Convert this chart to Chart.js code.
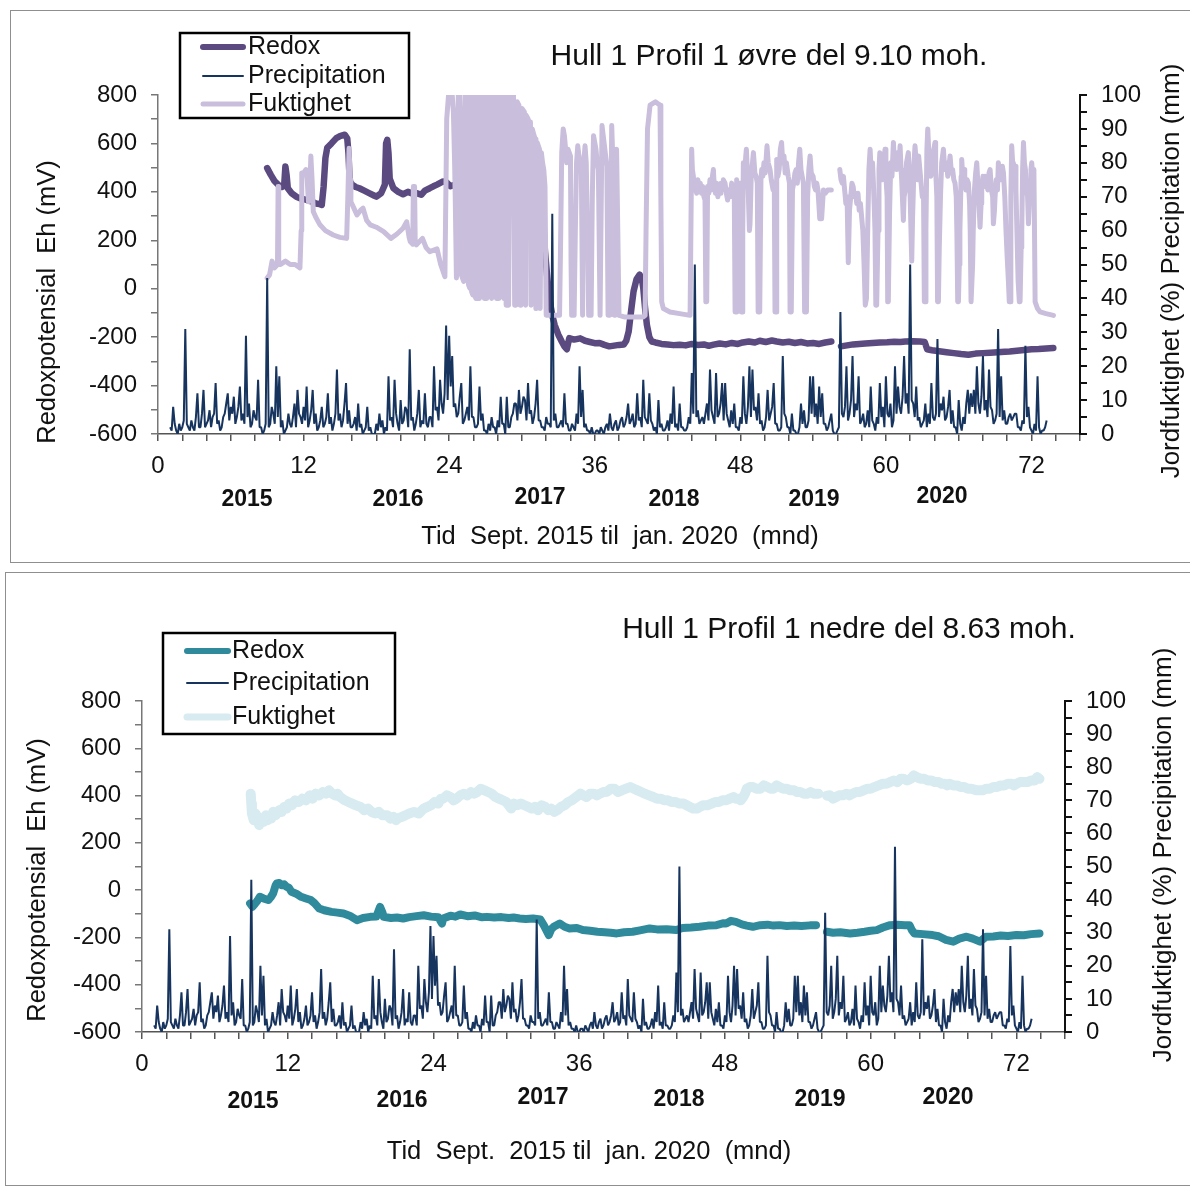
<!DOCTYPE html>
<html>
<head>
<meta charset="utf-8">
<title>Hull 1 Profil 1 - redoks, fuktighet og nedbør</title>
<script src="https://cdn.jsdelivr.net/npm/chart.js@4.4.0/dist/chart.umd.min.js"></script>
<style>
  html, body { margin: 0; padding: 0; background: #fff; }
  #page { position: relative; width: 1190px; height: 1189px; overflow: hidden; }
  .frame { position: absolute; border: 1.5px solid #8f8f8f; }
  canvas { position: absolute; left: 0; }
</style>
</head>
<body>
<div id="page">
  <div class="frame" style="left:10px; top:10px; width:1190px; height:551px;"></div>
  <div class="frame" style="left:5px; top:572px; width:1195px; height:612px;"></div>
  <canvas id="upperChart" width="1190" height="566" style="top:0"></canvas>
  <canvas id="lowerChart" width="1190" height="623" style="top:566px"></canvas>
</div>
<script>
/* ============================================
   DATA
   ============================================ */

// Precipitation (mm), one value every eighth of a month from month 1
const precipStart = 1.0;
const precipStep = 0.125;
const precipUpperMm = [
  2,1, 8,3, 1,0, 3,1, 2,4, 31,3, 2,1, 4,2, 1,5, 12,2, 2,6, 13,2,
  3,4, 7,2, 5,6, 15,3, 4,1, 2,5, 6,9, 12,4, 8,6, 11,3, 5,8, 14,4,
  6,3, 29,5, 9,2, 3,7, 5,4, 16,2, 2,0, 1,3, 46,2, 3,8, 6,3, 20,5,
  17,2, 4,0, 1,2, 6,3, 2,5, 9,2, 13,6, 5,3, 8,4, 14,2, 4,7, 13,3,
  6,1, 2,4, 8,2, 3,5, 12,3, 5,1, 3,6, 19,4, 6,2, 4,9, 15,3, 7,2,
  2,3, 5,1, 9,2, 3,0, 1,2, 8,1, 2,0, 0,0, 3,1, 6,2, 4,0, 2,1,
  17,4, 5,2, 16,6, 3,1, 10,3, 4,8, 7,2, 25,4, 5,1, 3,6, 13,2, 4,3,
  12,3, 2,5, 5,2, 20,7, 8,4, 16,9, 6,12, 32,10, 29,14, 23,8, 9,5, 6,11,
  15,3, 4,6, 8,4, 20,5, 5,2, 2,3, 14,4, 6,1, 1,0, 3,1, 5,2, 2,0,
  4,2, 11,3, 3,0, 11,2, 2,5, 6,9, 9,4, 13,6, 8,11, 10,4, 15,6, 7,3,
  5,9, 16,4, 4,2, 2,1, 5,3, 3,2, 65,4, 6,2, 2,3, 4,2, 12,3, 3,1,
  1,3, 2,1, 6,3, 20,5, 13,2, 3,1, 1,0, 2,0, 0,1, 1,0, 2,1, 0,2,
  3,1, 6,2, 1,3, 4,1, 2,4, 5,2, 3,5, 9,3, 4,6, 2,3, 12,4, 5,2,
  16,5, 4,3, 12,4, 3,1, 2,0, 10,2, 3,1, 1,2, 4,1, 6,3, 14,2, 3,1,
  9,2, 2,1, 1,2, 5,3, 18,6, 50,5, 7,3, 4,5, 3,6, 9,4, 19,7, 5,3,
  18,5, 6,9, 15,4, 15,6, 4,2, 7,3, 9,2, 2,1, 5,3, 17,6, 3,8, 20,5,
  19,7, 8,4, 12,3, 4,1, 2,5, 13,4, 6,8, 15,3, 3,1, 1,2, 23,6, 5,2,
  2,0, 6,1, 1,0, 0,2, 9,3, 7,2, 2,4, 17,6, 17,5, 9,3, 14,5, 12,3,
  3,1, 2,4, 6,1, 0,0, 1,2, 36,6, 5,8, 20,4, 6,10, 23,5, 9,7, 17,3,
  4,6, 2,3, 7,2, 14,4, 3,1, 5,3, 15,5, 8,2, 17,6, 5,9, 2,4, 20,6,
  14,8, 6,11, 23,9, 12,6, 50,10, 9,5, 14,4, 5,2, 3,4, 9,2, 6,3, 15,5,
  4,6, 28,5, 9,7, 11,4, 5,8, 13,3, 7,2, 2,0, 10,3, 1,5, 3,9, 13,6,
  12,8, 13,6, 20,9, 6,11, 23,7, 10,5, 19,8, 7,3, 4,6, 31,5, 17,4, 7,3,
  3,5, 6,4, 5,6, 6,2, 2,1, 4,3, 26,5, 8,2, 1,0, 3,1, 17,2, 0,1,
  1,2, 4
];
const precipLowerMm = [
  2,1, 8,3, 1,0, 3,1, 2,4, 31,3, 2,1, 4,2, 1,5, 12,2, 2,6, 13,2,
  3,4, 7,2, 5,6, 15,3, 4,1, 2,5, 6,9, 12,4, 8,6, 11,3, 5,8, 14,4,
  6,3, 29,5, 9,2, 3,7, 5,4, 16,2, 2,0, 1,3, 46,2, 3,8, 6,3, 20,5,
  17,2, 4,0, 1,2, 6,3, 2,5, 9,2, 13,6, 5,3, 8,4, 14,2, 4,7, 13,3,
  6,1, 2,4, 8,2, 3,5, 12,3, 5,1, 3,6, 19,4, 6,2, 4,9, 15,3, 7,2,
  2,3, 5,1, 9,2, 3,0, 1,2, 8,1, 2,0, 0,0, 3,1, 6,2, 4,0, 2,1,
  17,4, 5,2, 16,6, 3,1, 10,3, 4,8, 7,2, 25,4, 5,1, 3,6, 13,2, 4,3,
  12,3, 2,5, 5,2, 20,7, 8,4, 16,9, 6,12, 32,10, 29,14, 23,8, 9,5, 6,11,
  15,3, 4,6, 8,4, 20,5, 5,2, 2,3, 14,4, 6,1, 1,0, 3,1, 5,2, 2,0,
  4,2, 11,3, 3,0, 11,2, 2,5, 6,9, 9,4, 13,6, 8,11, 10,4, 15,6, 7,3,
  5,9, 16,4, 4,2, 2,1, 5,3, 3,2, 34,4, 6,2, 2,3, 4,2, 12,3, 3,1,
  1,3, 2,1, 6,3, 20,5, 13,2, 3,1, 1,0, 2,0, 0,1, 1,0, 2,1, 0,2,
  3,1, 6,2, 1,3, 4,1, 2,4, 5,2, 3,5, 9,3, 4,6, 2,3, 12,4, 5,2,
  16,5, 4,3, 12,4, 3,1, 2,0, 10,2, 3,1, 1,2, 4,1, 6,3, 14,2, 3,1,
  9,2, 2,1, 1,2, 5,3, 18,6, 50,5, 7,3, 4,5, 3,6, 9,4, 19,7, 5,3,
  18,5, 6,9, 15,4, 15,6, 4,2, 7,3, 9,2, 2,1, 5,3, 17,6, 3,8, 20,5,
  19,7, 8,4, 12,3, 4,1, 2,5, 13,4, 6,8, 15,3, 3,1, 1,2, 23,6, 5,2,
  2,0, 6,1, 1,0, 0,2, 9,3, 7,2, 2,4, 17,6, 17,5, 9,3, 14,5, 12,3,
  3,1, 2,4, 6,1, 0,0, 1,2, 36,6, 5,8, 20,4, 6,10, 23,5, 9,7, 17,3,
  4,6, 2,3, 7,2, 14,4, 3,1, 5,3, 15,5, 8,2, 17,6, 5,9, 2,4, 20,6,
  14,8, 6,11, 23,9, 12,6, 56,10, 9,5, 14,4, 5,2, 3,4, 9,2, 6,3, 15,5,
  4,6, 28,5, 9,7, 11,4, 5,8, 13,3, 7,2, 2,0, 10,3, 1,5, 3,9, 13,6,
  12,8, 13,6, 20,9, 6,11, 23,7, 10,5, 19,8, 7,3, 4,6, 31,5, 17,4, 7,3,
  3,5, 6,4, 5,6, 6,2, 2,1, 4,3, 26,5, 8,2, 1,0, 3,1, 17,2, 0,1,
  1,2, 4
];

// Upper profile (øvre del): [month, Eh mV]
const upperRedox = [
  [9.0,498],[9.3,470],[9.6,445],[9.9,430],[10.2,420],[10.4,425],[10.5,505],[10.6,470],[10.7,415],
  [11.0,395],[11.4,380],[11.8,372],[12.25,367],[12.7,360],[13.0,352],[13.3,350],[13.5,346],
  [13.65,420],[13.8,540],[13.95,582],[14.3,600],[14.7,622],[15.0,630],[15.4,636],[15.6,620],
  [15.7,560],[15.8,445],[16.0,430],[16.3,420],[16.6,415],[17.0,405],[17.4,395],[17.8,385],
  [18.0,380],[18.4,395],[18.7,430],[18.8,600],[18.9,615],[19.0,560],[19.1,455],[19.4,415],
  [19.8,400],[20.2,390],[20.6,400],[21.0,392],[21.3,395],[21.7,388],[22.0,405],[22.4,415],
  [22.7,423],[23.0,430],[23.5,443],[23.8,438],[24.1,423],[24.5,430],[25.0,425],[25.3,433],
  [25.7,430],[26.2,436],[26.6,440],[26.9,437],[27.0,595],[27.5,590],[28.0,585],[28.5,583],
  [29.0,581],[29.1,430],[29.5,425],[30.0,423],[30.4,425],[30.7,420],[31.1,400],[31.4,385],
  [31.7,300],[31.9,154],[32.1,40],[32.3,-52],[32.5,-110],[32.7,-150],[33.0,-190],[33.3,-220],
  [33.5,-238],[33.7,-250],[33.9,-204],[34.3,-210],[34.8,-205],[35.2,-215],[35.6,-220],
  [36.0,-225],[36.4,-224],[36.8,-232],[37.2,-238],[37.6,-235],[38.0,-232],[38.4,-230],
  [38.6,-215],[38.8,-176],[39.0,-90],[39.2,-11],[39.45,40],[39.7,58],[39.9,35],[40.0,3],
  [40.15,-80],[40.3,-149],[40.5,-200],[40.7,-218],[41.0,-222],[41.5,-228],[42.0,-230],
  [42.5,-233],[43.0,-231],[43.5,-234],[44.0,-228],[44.5,-232],[45.0,-230],[45.4,-236],
  [45.8,-231],[46.3,-226],[46.8,-230],[47.3,-224],[47.8,-228],[48.2,-222],[48.7,-218],
  [49.2,-222],[49.6,-215],[50.1,-220],[50.6,-214],[51.0,-218],[51.5,-222],[52.0,-219],
  [52.5,-224],[53.0,-220],[53.5,-226],[54.0,-224],[54.5,-228],[55.0,-222],[55.5,-218],
  [55.9,null],
  [56.3,-238],[56.8,-234],[57.3,-230],[57.8,-228],[58.3,-226],[58.9,-224],[59.5,-222],
  [60.1,-221],[60.7,-219],[61.2,-220],[61.6,-218],[62.2,-217],[62.8,-218],[63.2,-220],
  [63.4,-250],[63.8,-254],[64.4,-258],[65.0,-262],[65.6,-266],[66.2,-270],[66.8,-273],
  [67.4,-268],[68.0,-266],[68.6,-264],[69.2,-262],[69.8,-260],[70.2,-259],[70.8,-256],
  [71.4,-253],[72.0,-250],[72.6,-249],[73.2,-247],[73.8,-245]
];

// Upper profile soil moisture: [month, %]
const upperFukt = [
  [9.0,46],[9.2,47],[9.4,51],[9.6,49],[9.85,50],[9.9,73],[9.95,50],[10.1,50],[10.5,51],
  [10.9,50],[11.3,50],[11.7,49],[11.8,60],[11.85,77],[12.0,77],[12.2,78],[12.3,75],
  [12.4,68.5],[12.5,70],[12.6,82],[12.7,75],[12.8,65.6],[13.0,64],[13.35,61.7],[13.8,60],
  [14.45,58.7],[15.0,58],[15.55,57.7],[15.65,70],[15.75,84.3],[15.85,75],[15.9,68.5],
  [16.1,67],[16.4,64.6],[16.7,66],[16.9,66.6],[17.2,63],[17.5,61.7],[18.0,61],[18.6,59.7],
  [19.2,57.7],[19.7,59],[20.2,60.7],[20.5,62.6],[20.7,58],[20.8,56.7],[21.0,56],[21.05,73],
  [21.15,73],[21.2,57],[21.3,55.8],[21.8,57.7],[22.1,55],[22.4,53.8],[23.0,54.6],[23.3,50],
  [23.65,46.4],
  [23.8,93],[23.95,100],[24.1,99],[24.25,100],[24.35,95],[24.45,80],[24.5,70],[24.6,46],
  [24.68,60],[24.75,100],[24.85,100],[24.9,95],[24.95,60],[25.0,47],[25.1,46],[25.2,45],
  [25.25,80],[25.3,100],[25.4,100],[25.5,100],[25.55,70],[25.6,44],[25.7,43],[25.75,100],
  [25.8,100],[25.85,42],[25.95,41],[26.0,100],[26.05,100],[26.1,41],[26.2,40],[26.3,40],
  [26.4,100],[26.45,100],[26.5,40],[26.6,100],[26.7,100],[26.8,100],[26.9,40],[27.0,100],
  [27.1,40],[27.2,100],[27.3,42],[27.4,100],[27.5,40],[27.6,100],[27.7,41],[27.8,100],
  [27.9,40],[28.0,100],[28.1,40],[28.2,100],[28.3,41],[28.4,100],[28.5,40],[28.6,100],
  [28.7,38],[28.9,38],[29.0,100],[29.2,100],[29.3,100],[29.4,38],[29.5,38],[29.6,98],
  [29.75,97],[29.85,38],[29.9,96],[30.0,96],[30.2,95],[30.3,38],[30.35,94],[30.5,93],
  [30.6,92],[30.7,92],[30.75,38],[30.8,38],[30.85,90],[31.0,88],[31.1,87],[31.15,37],
  [31.2,37],[31.25,86],[31.3,86],[31.45,84],[31.5,37],[31.55,37],[31.6,83],[31.7,80],
  [31.8,78],[31.9,73],[32.0,35],[32.5,35],[33.1,35],
  [33.2,60],[33.28,83],[33.4,90],[33.5,88],[33.6,84],[33.69,80],[33.8,84],[34.0,82],
  [34.05,50],[34.1,35],[34.3,35],[34.4,60],[34.5,80],[34.6,85],[34.7,82],[34.8,80],
  [34.9,77],[35.0,35],[35.03,35],[35.06,78],[35.2,85],[35.3,80],[35.4,60],[35.5,35],
  [35.7,35],[35.8,70],[35.9,88],[36.0,86],[36.1,84],[36.2,80],[36.3,78],[36.44,35],
  [36.5,35],[36.6,91],[36.7,88],[36.8,85],[36.9,82],[37.0,79],[37.1,35],[37.25,35],
  [37.4,91],[37.55,74],[37.6,35],[37.7,35],[37.8,84],[37.9,60],[38.0,35],[38.5,34.5],
  [39.0,34.5],[39.5,34.5],[40.0,34.5],[40.15,35],[40.23,60],[40.35,90],[40.56,97],[41.0,98],
  [41.38,97],[41.45,70],[41.52,39],[41.66,37],[42.2,36],[43.0,35.5],[43.86,35],
  [43.99,84],[44.05,78],[44.13,76],[44.2,72],[44.3,74],[44.4,71],[44.5,75],[44.6,72],
  [44.7,74],[44.8,71],[44.9,73],[45.0,70],[45.09,69],[45.16,39],[45.23,39],[45.3,73],
  [45.4,71],[45.5,75],[45.6,72],[45.7,76],[45.78,78],[45.85,73],[45.95,71],[46.05,74],
  [46.15,70],[46.25,72],[46.33,71],[46.4,74],[46.5,72],[46.6,75],[46.74,74],[46.85,71],
  [46.95,69],[47.05,72],[47.15,70],[47.29,74],[47.4,70],[47.5,72],[47.57,36],[47.65,36],
  [47.7,75],[47.8,72],[47.9,70],[48.0,74],[48.07,36],[48.15,36],[48.2,60],[48.25,80],
  [48.35,76],[48.45,82],[48.5,84],[48.6,76],[48.65,72],[48.75,60],[48.8,62],[48.9,76],
  [48.95,78],[49.08,83],[49.2,77],[49.3,76],[49.4,74],[49.47,36],[49.6,36],[49.7,75],
  [49.76,78],[49.85,76],[49.95,80],[50.05,77],[50.2,85],[50.3,80],[50.45,78],[50.55,75],
  [50.7,72],[50.8,74],[50.86,36],[50.95,36],[51.0,81],[51.1,76],[51.2,78],[51.3,84],
  [51.4,86],[51.5,80],[51.6,82],[51.7,77],[51.8,80],[51.95,76],[52.05,74],[52.1,36],
  [52.2,36],[52.3,72],[52.4,74],[52.5,77],[52.6,78],[52.7,74],[52.8,80],[52.9,84],
  [53.0,78],[53.1,76],[53.2,74],[53.3,36],[53.45,36],[53.55,70],[53.65,78],[53.75,82],
  [53.85,77],[54.0,76],[54.1,73],[54.2,72],[54.3,74],[54.4,72],[54.55,63.5],[54.7,63.5],
  [54.85,72],[55.0,71],[55.2,72],[55.5,72],
  [55.85,null],
  [56.2,78],[56.3,75],[56.4,74],[56.5,76],[56.6,72],[56.7,68],[56.8,70],[56.9,50.5],
  [57.0,66],[57.1,70],[57.2,74],[57.3,73],[57.4,70],[57.5,71],[57.6,68],[57.7,71],
  [57.8,66],[57.9,68],[58.0,64],[58.1,60],[58.2,50],[58.3,38],[58.4,40],[58.5,60],
  [58.6,78],[58.7,84],[58.8,76],[58.9,80],[58.97,74],[59.05,66],[59.1,60],[59.17,38],
  [59.24,38],[59.35,60],[59.43,78],[59.5,83],[59.6,77],[59.7,75],[59.8,80],[59.93,84],
  [60.0,76],[60.1,70],[60.15,39],[60.2,39],[60.3,65],[60.4,80],[60.5,76],[60.62,86],
  [60.7,79],[60.8,82],[60.89,78],[61.0,83],[61.1,80],[61.17,85],[61.25,78],[61.3,75],
  [61.44,63],[61.5,70],[61.6,72],[61.7,80],[61.85,83],[61.95,76],[62.0,70],[62.13,51],
  [62.2,64],[62.25,70],[62.32,80],[62.4,85],[62.5,80],[62.6,75],[62.7,82],[62.8,78],
  [62.9,74],[63.0,70],[63.1,72],[63.17,39],[63.23,39],[63.3,60],[63.38,84],[63.45,90],
  [63.55,82],[63.6,80],[63.7,76],[63.78,79],[63.9,83],[64.05,86],[64.1,78],[64.2,70],
  [64.26,39],[64.33,39],[64.4,55],[64.5,70],[64.6,80],[64.74,84],[64.85,78],[65.0,80],
  [65.1,76],[65.2,79],[65.29,82],[65.4,77],[65.5,78],[65.6,75],[65.7,74],[65.8,70],
  [65.85,60],[65.92,39],[65.98,39],[66.05,50],[66.1,60],[66.2,76],[66.25,81],[66.35,75],
  [66.45,78],[66.5,76],[66.6,72],[66.7,75],[66.8,74],[66.9,68],[66.95,60],[67.02,39],
  [67.08,39],[67.15,50],[67.2,60],[67.3,72],[67.4,77],[67.49,80],[67.58,74],[67.65,70],
  [67.76,61],[67.85,68],[67.9,72],[68.0,76],[68.1,73],[68.17,76],[68.3,74],[68.4,72],
  [68.5,77],[68.59,78],[68.7,72],[68.8,70],[68.86,62],[68.95,66],[69.0,70],[69.1,75],
  [69.2,72],[69.27,80],[69.38,76],[69.5,75],[69.6,79],[69.69,77],[69.8,70],[69.9,60],
  [70.0,52],[70.1,45],[70.17,39],[70.24,39],[70.3,70],[70.37,85],[70.45,80],[70.5,80],
  [70.58,76],[70.65,79],[70.72,72],[70.8,60],[70.9,45],[71.0,39],[71.06,39],[71.15,55],
  [71.2,60],[71.27,78],[71.34,86],[71.42,80],[71.5,78],[71.6,72],[71.68,70],[71.75,62],
  [71.82,68],[71.9,72],[71.96,78],[72.02,80],[72.1,76],[72.2,78],[72.25,60],[72.3,39],
  [72.5,37],[72.71,36],[73.2,35.5],[73.81,35]
];

// Lower profile (nedre del): [month, Eh mV]
const lowerRedox = [
  [8.9,-56],[9.1,-70],[9.3,-58],[9.5,-45],[9.7,-28],[10.0,-35],[10.4,-42],[10.6,-30],
  [10.8,-14],[11.0,20],[11.1,28],[11.3,30],[11.5,21],[11.7,25],[11.9,14],[12.1,10],
  [12.3,-7],[12.7,-15],[13.1,-28],[13.5,-35],[13.9,-42],[14.2,-55],[14.6,-78],[15.0,-85],
  [15.6,-92],[16.1,-95],[16.6,-99],[17.1,-108],[17.7,-127],[18.2,-118],[18.8,-113],
  [19.3,-112],[19.6,-71],[19.8,-95],[19.9,-113],[20.5,-118],[21.0,-116],[21.5,-120],
  [22.0,-114],[22.6,-110],[23.2,-106],[23.8,-112],[24.4,-115],[24.7,-141],[24.8,-120],
  [25.4,-108],[25.8,-112],[26.2,-103],[26.8,-110],[27.4,-107],[28.0,-115],[28.4,-113],
  [29.0,-116],[29.6,-114],[30.2,-118],[30.6,-116],[31.1,-120],[31.6,-122],[32.2,-120],
  [32.8,-124],[33.1,-150],[33.5,-190],[33.7,-165],[33.9,-155],[34.4,-141],[34.8,-155],
  [35.2,-162],[35.8,-160],[36.3,-169],[36.9,-172],[37.5,-176],[38.1,-178],[38.6,-180],
  [39.1,-183],[39.7,-178],[40.4,-176],[41.0,-170],[41.8,-162],[42.4,-166],[43.2,-165],
  [44.0,-169],[44.5,-160],[45.2,-158],[45.9,-155],[46.6,-150],[47.3,-148],[47.9,-140],
  [48.1,-141],[48.5,-130],[48.9,-134],[49.4,-145],[49.8,-150],[50.3,-155],[50.9,-148],
  [51.5,-146],[52.0,-150],[52.5,-148],[53.1,-152],[53.7,-150],[54.3,-152],[55.0,-149],
  [55.5,-148],
  [55.9,null],
  [56.4,-176],[56.9,-180],[57.5,-178],[58.3,-183],[58.9,-180],[59.5,-176],[60.0,-172],
  [60.5,-169],[61.0,-158],[61.6,-148],[62.2,-146],[62.8,-148],[63.2,-148],[63.4,-170],
  [63.6,-183],[64.3,-186],[65.1,-190],[65.6,-195],[66.2,-210],[66.8,-218],[67.3,-205],
  [67.9,-197],[68.4,-205],[69.0,-218],[69.5,-197],[70.1,-196],[70.7,-192],[71.3,-194],
  [72.0,-190],[72.6,-191],[73.2,-186],[73.9,-183]
];

// Lower profile soil moisture: [month, %]
const lowerFukt = [
  [8.95,72],[9.0,69],[9.05,66],[9.2,64],[9.35,66],[9.5,65],[9.65,62.5],[9.8,64],[10.0,63.5],
  [10.2,65.5],[10.35,64],[10.5,65],[10.65,64.5],[10.8,66.5],[11.0,65.5],[11.3,67],[11.5,66.5],
  [11.7,68],[11.9,67.5],[12.1,69],[12.35,68.5],[12.6,70],[12.9,69.5],[13.2,70.5],[13.5,70],
  [13.8,71.5],[14.05,70.5],[14.3,72],[14.6,71.5],[14.9,72.5],[15.15,72],[15.4,73],[15.65,72],
  [15.9,71.5],[16.1,72],[16.3,71],[16.5,70.5],[16.7,70],[17.0,69.5],[17.3,69],[17.6,68.5],
  [18.0,68],[18.3,67],[18.6,67.5],[18.9,66.5],[19.2,66],[19.5,66.5],[19.8,65.5],[20.2,65.5],
  [20.45,64.5],[20.7,65],[20.9,64],[21.1,64.6],[21.4,65],[21.7,65.5],[22.0,66],[22.4,66.5],
  [22.8,66],[23.2,67.5],[23.5,68],[23.8,68.5],[24.1,69.5],[24.4,69],[24.6,70.5],[24.8,70.5],
  [25.1,71.5],[25.4,71],[25.65,70],[25.9,70.5],[26.2,71.5],[26.5,72],[26.8,71.5],[27.1,72.5],
  [27.35,72],[27.6,72.5],[27.9,73.5],[28.2,73],[28.5,72.5],[28.8,72],[29.1,71],[29.4,70.5],
  [29.7,70],[30.0,69.5],[30.2,68.5],[30.4,67.5],[30.6,69],[30.9,68.5],[31.2,69],[31.5,68.5],
  [31.8,68],[32.1,67.5],[32.35,68],[32.6,67],[32.9,68.5],[33.2,68],[33.45,67],[33.7,67.5],
  [33.95,66.5],[34.2,67],[34.5,68],[34.8,68.5],[35.1,69.5],[35.4,70],[35.75,71],[36.1,72],
  [36.35,71.5],[36.6,71],[36.9,72],[37.2,72],[37.45,71.5],[37.7,72],[38.0,72.5],[38.3,72.6],
  [38.6,73.5],[38.9,73.5],[39.2,72.5],[39.5,73],[39.85,73.5],[40.2,74],[40.5,73.5],[40.8,73],
  [41.1,72.5],[41.4,72],[41.75,71.5],[42.1,71],[42.4,70.5],[42.7,70.5],[43.0,70],[43.3,70],
  [43.6,69.5],[43.9,69.5],[44.25,69],[44.6,69],[44.85,68.5],[45.1,68],[45.4,67.5],[45.7,67.5],
  [45.95,68],[46.2,68.5],[46.55,68.5],[46.9,69],[47.2,69.5],[47.5,69.5],[47.8,70],[48.1,70],
  [48.4,70.5],[48.7,71],[48.9,70.5],[49.1,70.5],[49.3,70],[49.5,71],[49.65,72],[49.8,73.5],
  [50.05,74],[50.3,74],[50.6,73.5],[50.9,73.5],[51.2,74.5],[51.5,74],[51.75,73.5],[52.0,73.5],
  [52.25,74.5],[52.5,74],[52.8,73.5],[53.1,73.5],[53.4,73],[53.7,73],[53.95,72.5],[54.2,72.5],
  [54.5,72],[54.8,72],[55.05,72.5],[55.3,72],[55.5,72],[55.7,72],
  [56.0,null],
  [56.4,71.4],[56.65,71.5],[56.9,70.5],[57.15,71],[57.4,71.5],[57.7,71.5],[58.0,72],
  [58.25,71.5],[58.5,72],[58.8,72.5],[59.1,72.5],[59.4,73],[59.7,73.5],[60.0,73.5],[60.3,74],
  [60.65,74.5],[61.0,75],[61.3,75],[61.6,75.5],[61.9,76],[62.2,75.5],[62.45,76.5],[62.7,76.5],
  [63.0,76],[63.3,76.5],[63.55,77.5],[63.8,77],[64.1,76.5],[64.4,76.5],[64.7,76],[65.0,76],
  [65.3,75.5],[65.6,75.5],[65.85,75],[66.1,75],[66.3,74.5],[66.5,75],[66.8,74.5],[67.1,74.5],
  [67.4,74],[67.7,74],[68.0,73.5],[68.3,73.5],[68.75,73],[69.2,73],[69.5,73.5],[69.8,73.5],
  [70.1,74],[70.4,74],[70.7,74.5],[71.0,74.5],[71.3,75],[71.6,75],[71.8,74.5],[72.0,75],
  [72.3,75.5],[72.6,75.5],[72.9,75.5],[73.2,76],[73.5,76],[73.7,77],[73.9,76.5]
];

// Axis labels
const yearLabels = ['2015', '2016', '2017', '2018', '2019', '2020'];
const seriesNames = ['Redox', 'Precipitation', 'Fuktighet'];

/* ============================================
   HELPERS
   ============================================ */
const FONT = "'Liberation Sans', Arial, sans-serif";

function pairsToPoints(pairs) {
  return pairs.map(p => ({ x: p[0], y: p[1] }));
}

function precipToPoints(values) {
  return values.map((v, i) => ({ x: precipStart + i * precipStep, y: v }));
}

// Draws titles, year row, axis titles and the boxed legend
const panelText = {
  id: 'panelText',
  afterDraw(chart, args, o) {
    const ctx = chart.ctx;
    ctx.save();
    ctx.fillStyle = '#111';
    ctx.textBaseline = 'middle';
    ctx.textAlign = 'center';

    // Panel title
    ctx.font = '30px ' + FONT;
    ctx.fillText(o.title, o.titleX, o.titleY);

    // Year row under the month axis
    ctx.font = 'bold 23px ' + FONT;
    yearLabels.forEach((label, i) => ctx.fillText(label, o.yearX[i], o.yearY[i]));

    // Time axis title
    ctx.font = '25.5px ' + FONT;
    ctx.fillText(o.xTitle, o.xTitleX, o.xTitleY);

    // Left axis title
    ctx.save();
    ctx.translate(o.leftTitleX, o.leftTitleY);
    ctx.rotate(-Math.PI / 2);
    ctx.font = '25.5px ' + FONT;
    ctx.fillText('Redoxpotensial  Eh (mV)', 0, 0);
    ctx.restore();

    // Right axis title
    ctx.save();
    ctx.translate(o.rightTitleX, o.rightTitleY);
    ctx.rotate(-Math.PI / 2);
    ctx.font = '26px ' + FONT;
    ctx.fillText('Jordfuktighet (%) Precipitation (mm)', 0, 0);
    ctx.restore();

    // Legend box
    const lg = o.legend;
    ctx.lineWidth = 2.5;
    ctx.strokeStyle = '#000';
    ctx.strokeRect(lg.x, lg.y, lg.w, lg.h);
    ctx.font = '25px ' + FONT;
    ctx.textAlign = 'left';
    const ds = chart.data.datasets;
    seriesNames.forEach((name, i) => {
      const d = ds.find(s => s.label === name);
      const rowY = lg.rows[i];
      ctx.beginPath();
      ctx.strokeStyle = d.borderColor;
      ctx.lineWidth = lg.sampleWidths[i];
      ctx.lineCap = 'round';
      ctx.moveTo(lg.sampleX0, rowY);
      ctx.lineTo(lg.sampleX1, rowY);
      ctx.stroke();
      ctx.fillStyle = '#111';
      ctx.fillText(name, lg.textX, rowY);
    });
    ctx.restore();
  }
};

/* ============================================
   BUILD ONE PANEL
   ============================================ */
function buildPanel(canvasId, cfg) {
  const ctx = document.getElementById(canvasId).getContext('2d');
  return new Chart(ctx, {
    type: 'line',
    data: {
      datasets: [
        {
          label: 'Precipitation',
          data: precipToPoints(cfg.precip),
          yAxisID: 'y1',
          borderColor: '#17345e',
          borderWidth: 2,
          borderJoinStyle: 'bevel',
          pointRadius: 0,
          order: 0
        },
        {
          label: 'Fuktighet',
          data: pairsToPoints(cfg.fukt),
          yAxisID: 'y1',
          borderColor: cfg.fuktColor,
          borderWidth: cfg.fuktWidth,
          borderJoinStyle: 'round',
          borderCapStyle: 'round',
          pointRadius: 0,
          spanGaps: false,
          order: 1
        },
        {
          label: 'Redox',
          data: pairsToPoints(cfg.redox),
          yAxisID: 'y',
          borderColor: cfg.redoxColor,
          borderWidth: cfg.redoxWidth,
          borderJoinStyle: 'round',
          borderCapStyle: 'round',
          pointRadius: 0,
          spanGaps: false,
          order: 2
        }
      ]
    },
    options: {
      responsive: false,
      animation: false,
      events: [],
      layout: { padding: { left: 0, right: 0, top: cfg.areaTop, bottom: 0 } },
      plugins: {
        legend: { display: false },
        tooltip: { enabled: false },
        panelText: cfg.text
      },
      scales: {
        x: {
          type: 'linear',
          min: 0,
          max: 76,
          afterFit: s => { s.height = cfg.xAxisHeight; },
          border: { display: true, color: '#555', width: 1.5 },
          grid: { drawOnChartArea: false, tickLength: 7, color: '#555', lineWidth: 1.5 },
          ticks: {
            stepSize: 2,
            autoSkip: false,
            maxRotation: 0,
            padding: 11,
            color: '#111',
            font: { family: FONT, size: 24 },
            callback: v => (v % 12 === 0 ? String(v) : '')
          }
        },
        y: {
          position: 'left',
          min: -600,
          max: 800,
          afterFit: s => { s.width = cfg.leftWidth; },
          border: { display: true, color: '#777', width: 1.5 },
          grid: { drawOnChartArea: false, tickLength: 7, color: '#777', lineWidth: 1.5 },
          ticks: {
            stepSize: 100,
            autoSkip: false,
            padding: 14,
            color: '#111',
            font: { family: FONT, size: 24 },
            callback: v => (v % 200 === 0 ? String(v) : '')
          }
        },
        y1: {
          position: 'right',
          min: 0,
          max: 100,
          afterFit: s => { s.width = cfg.rightWidth; },
          border: { display: true, color: '#111', width: 2 },
          grid: { drawOnChartArea: false, tickLength: 7, color: '#111', lineWidth: 2 },
          ticks: {
            stepSize: 5,
            autoSkip: false,
            padding: 14,
            color: '#111',
            font: { family: FONT, size: 24 },
            callback: v => (v % 10 === 0 ? String(v) : '')
          }
        }
      }
    },
    plugins: [panelText]
  });
}

/* ============================================
   PANELS
   ============================================ */
buildPanel('upperChart', {
  precip: precipUpperMm,
  redox: upperRedox,
  fukt: upperFukt,
  redoxColor: '#5b4a80',
  redoxWidth: 6.5,
  fuktColor: '#c9bedb',
  fuktWidth: 5,
  areaTop: 95,
  xAxisHeight: 132,
  leftWidth: 158,
  rightWidth: 110,
  text: {
    title: 'Hull 1 Profil 1 øvre del 9.10 moh.',
    titleX: 769, titleY: 57,
    yearX: [247, 398, 540, 674, 814, 942],
    yearY: [500, 500, 498, 500, 500, 497],
    xTitle: 'Tid  Sept. 2015 til  jan. 2020  (mnd)',
    xTitleX: 620, xTitleY: 537,
    leftTitleX: 48, leftTitleY: 302,
    rightTitleX: 1172, rightTitleY: 271,
    legend: {
      x: 180, y: 33, w: 229, h: 85,
      rows: [47, 76, 104],
      sampleX0: 203, sampleX1: 243, textX: 248,
      sampleWidths: [6, 2, 5]
    }
  }
});

buildPanel('lowerChart', {
  precip: precipLowerMm,
  redox: lowerRedox,
  fukt: lowerFukt,
  redoxColor: '#2f8a9c',
  redoxWidth: 8,
  fuktColor: '#d7ebf1',
  fuktWidth: 10,
  areaTop: 135,
  xAxisHeight: 157,
  leftWidth: 142,
  rightWidth: 125,
  text: {
    title: 'Hull 1 Profil 1 nedre del 8.63 moh.',
    titleX: 849, titleY: 64,
    yearX: [253, 402, 543, 679, 820, 948],
    yearY: [536, 535, 532, 534, 534, 532],
    xTitle: 'Tid  Sept.  2015 til  jan. 2020  (mnd)',
    xTitleX: 589, xTitleY: 586,
    leftTitleX: 38, leftTitleY: 314,
    rightTitleX: 1164, rightTitleY: 289,
    legend: {
      x: 163, y: 67, w: 232, h: 101,
      rows: [85, 117, 151],
      sampleX0: 187, sampleX1: 228, textX: 232,
      sampleWidths: [6, 2, 7]
    }
  }
});
</script>
</body>
</html>
